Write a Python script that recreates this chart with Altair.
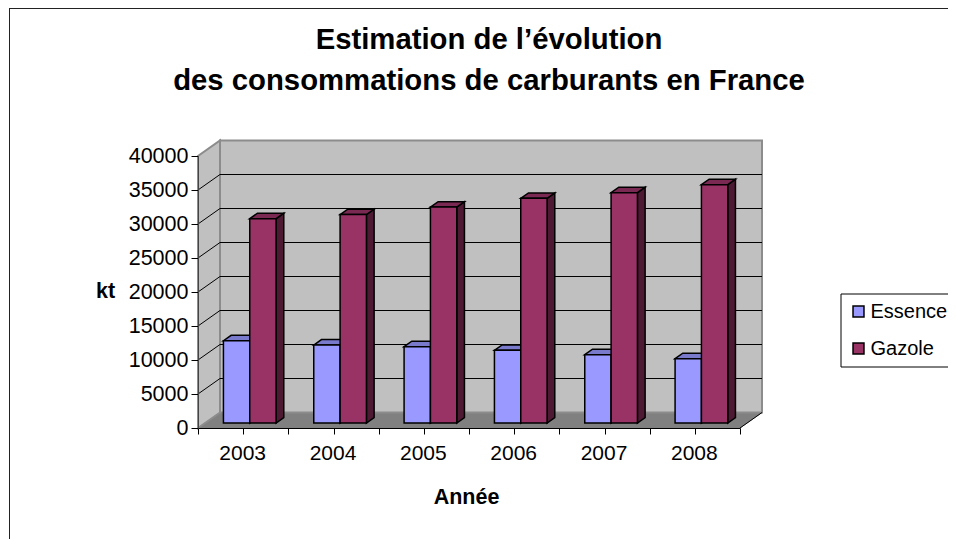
import altair as alt
import pandas as pd

# --- data -----------------------------------------------------------------
years = ["2003", "2004", "2005", "2006", "2007", "2008"]
essence = [12100, 11470, 11230, 10690, 10060, 9470]
gazole = [30060, 30650, 31760, 33040, 33880, 35060]
series_names = ["Essence", "Gazole"]
series_values = {"Essence": essence, "Gazole": gazole}
front_colors = ["#9999FF", "#993366"]
top_colors = ["#7A7ACC", "#7A2952"]
side_colors = ["#4D4D80", "#4D1933"]
y_ticks = [0, 5000, 10000, 15000, 20000, 25000, 30000, 35000, 40000]
grid_values = [5000, 10000, 15000, 20000, 25000, 30000, 35000]
title_lines = ["Estimation de l\u2019évolution", "des consommations de carburants en France"]

FONT = "Liberation Sans"
# --- oblique projection of the 3-D box, in axis units -----------------------
N = len(years)
YMAX = 40000
DX = 22 / 90.33        # full depth, in category units
DV = 2279              # full depth, in value units
BAR_START = 0.2035     # left edge of first bar inside a category
BAR_W = 0.2915         # width of a bar
D_FRONT, D_LEN = 0.32, 0.35


def poly(rows):
    return pd.DataFrame(rows, columns=["x", "y", "y2", "id"])


xs = alt.Scale(domain=[0, N], nice=False, zero=False)
ys = alt.Scale(domain=[0, YMAX], nice=False, zero=False)
X = alt.X("x:Q", scale=xs, axis=None)
Y = alt.Y("y:Q", scale=ys, axis=None)
Y2 = alt.Y2("y2:Q")

layers = []

# axes (carried by an invisible layer)
label_list = "[" + ",".join(f"'{y}'" for y in years) + "]"
axis_base = alt.Chart(pd.DataFrame({"x": [0, N], "y": [0, YMAX]})).mark_point(opacity=0).encode(
    x=alt.X("x:Q", scale=xs, axis=alt.Axis(
        values=[i / 2 for i in range(2 * N + 1)],
        labelExpr=f"datum.value % 1 == 0.5 ? {label_list}[floor(datum.value)] : ''",
        title="Année", titleFont=FONT, titleFontSize=21.5, titleFontWeight="bold",
        titleColor="black", titleX=268, titleY=69, titleBaseline="middle",
        labelFont=FONT, labelFontSize=21, labelColor="black", labelAngle=0,
        labelPadding=8, labelOffset=-1, labelOverlap=False, labelFlush=False,
        tickColor="black", tickSize=6, domainColor="black", grid=False, zindex=1)),
    y=alt.Y("y:Q", scale=ys, axis=alt.Axis(
        values=y_ticks, format="d",
        title="kt", titleFont=FONT, titleFontSize=21.5, titleFontWeight="bold",
        titleColor="black", titleAngle=0, titleX=-93, titleY=135, titleBaseline="middle",
        labelFont=FONT, labelFontSize=21.5, labelColor="black",
        labelPadding=3, tickColor="black", tickSize=7, domainColor="#444444",
        grid=False, zindex=1)),
)
layers.append(axis_base)

# walls and floor
floor = poly([(0, 0, 0, 0), (DX, DV, 0, 0), (N, DV, 0, 0), (N + DX, DV, DV, 0)])
back = poly([(DX, DV, YMAX + DV, 0), (N + DX, DV, YMAX + DV, 0)])
left = poly([(0, 0, YMAX, 0), (DX, DV, YMAX + DV, 0)])
layers.append(alt.Chart(floor).mark_area(fill="#808080", stroke="#808080", strokeWidth=1).encode(
    x=X, y=Y, y2=Y2, detail="id:N"))
layers.append(alt.Chart(back).mark_area(fill="#C0C0C0", stroke="#8C8C8C", strokeWidth=2).encode(
    x=X, y=Y, y2=Y2, detail="id:N"))
layers.append(alt.Chart(left).mark_area(fill="#C0C0C0", stroke="#8C8C8C", strokeWidth=2).encode(
    x=X, y=Y, y2=Y2, detail="id:N"))

# gridlines on left wall and back wall
grid_rows = []
for v in grid_values:
    grid_rows += [(0, v, v, v), (DX, v + DV, v, v), (N + DX, v + DV, v, v)]
layers.append(alt.Chart(poly(grid_rows)).mark_line(color="black", strokeWidth=1).encode(
    x=X, y=Y, detail="id:N"))
# floor right edge
layers.append(alt.Chart(poly([(N, 0, 0, 0), (N + DX, DV, 0, 0)])).mark_line(color="black", strokeWidth=1).encode(
    x=X, y=Y, detail="id:N"))

# bars
color_scale = alt.Scale(domain=series_names, range=front_colors)
for k, s in enumerate(series_names):
    side_rows, top_rows, front_rows = [], [], []
    for i, v in enumerate(series_values[s]):
        xl = i + BAR_START + k * BAR_W + D_FRONT * DX
        xr = xl + BAR_W
        b = D_FRONT * DV
        t = v + b
        dx, dv = D_LEN * DX, D_LEN * DV
        side_rows += [(xr, t, b, i), (xr + dx, t + dv, b + dv, i)]
        top_rows += [(xl, t, t, i), (xl + dx, t + dv, t, i), (xr, t + dv, t, i), (xr + dx, t + dv, t + dv, i)]
        front_rows.append((xl, xr, b, t, s))
    layers.append(alt.Chart(poly(side_rows)).mark_area(fill=side_colors[k], stroke="black", strokeWidth=1.5).encode(
        x=X, y=Y, y2=Y2, detail="id:N"))
    layers.append(alt.Chart(poly(top_rows)).mark_area(fill=top_colors[k], stroke="black", strokeWidth=1.5).encode(
        x=X, y=Y, y2=Y2, detail="id:N"))
    front = pd.DataFrame(front_rows, columns=["x", "x2", "y", "y2", "serie"])
    layers.append(alt.Chart(front).mark_rect(stroke="black", strokeWidth=1.5).encode(
        x=X, x2="x2:Q", y=Y, y2=Y2,
        color=alt.Color("serie:N", scale=color_scale, legend=alt.Legend(
            title=None, orient="none", legendX=642.5, legendY=137.5,
            fillColor="white", strokeColor="black", padding=8,
            symbolType="square", symbolSize=120, symbolStrokeColor="black", symbolStrokeWidth=1.5,
            symbolOpacity=1, labelFont=FONT, labelFontSize=20, labelColor="black",
            labelOffset=2, rowPadding=17))))

# outer chart frame
frame_top = alt.Chart().mark_rule(color="#222222", strokeWidth=1).encode(
    x=alt.value(-189), x2=alt.value(760), y=alt.value(-147.5))
frame_left = alt.Chart().mark_rule(color="#222222", strokeWidth=1).encode(
    x=alt.value(-188.5), y=alt.value(-147.5), y2=alt.value(385))
layers += [frame_top, frame_left]

chart = alt.layer(*layers).properties(
    width=542, height=272,
    title=alt.TitleParams(text=title_lines, anchor="middle", dx=20, offset=-88,
                          font=FONT, fontSize=29.3, fontWeight="bold", color="black", lineHeight=41),
    autosize=alt.AutoSizeParams(type="none"),
    padding={"left": 190, "top": 148, "right": 208, "bottom": 111},
    background="white",
).resolve_axis(x="independent", y="independent").configure_view(stroke=None)

chart.save("out.html", embed_options={"renderer": "svg", "actions": False})
